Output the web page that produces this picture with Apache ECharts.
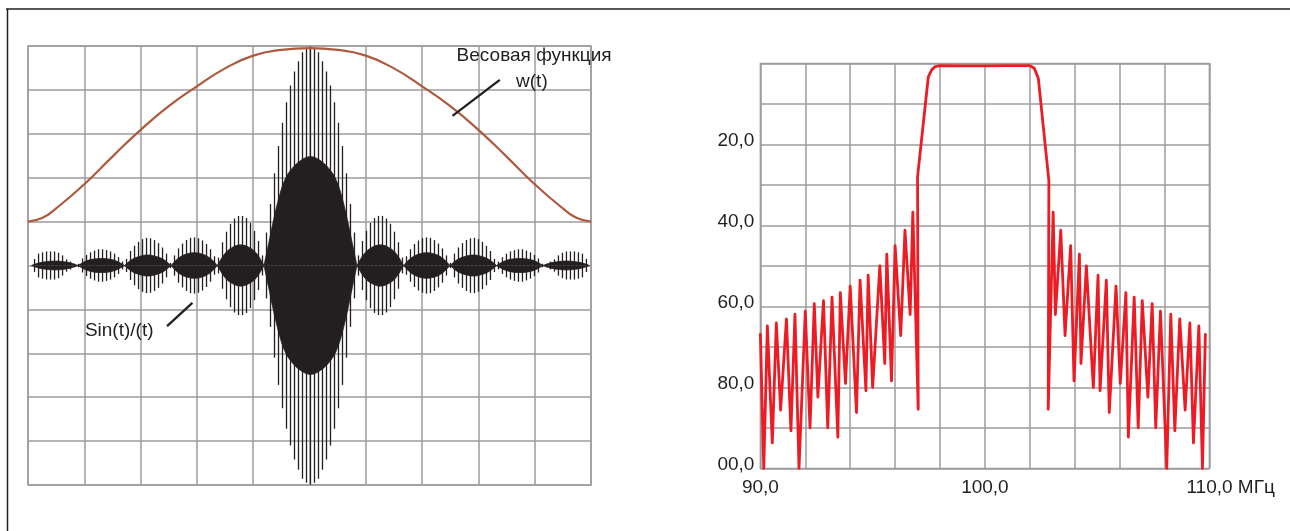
<!DOCTYPE html>
<html>
<head>
<meta charset="utf-8">
<script src="https://cdn.jsdelivr.net/npm/echarts@6/dist/echarts.min.js"></script>
<style>
  html, body { margin: 0; padding: 0; background: #ffffff; }
  #main { width: 1290px; height: 531px; }
</style>
</head>
<body>
<div id="main"></div>
<script>
// ---------------- DATA ----------------
// Left panel: weight function w(t), sampled on grid columns (0..10) -> amplitude (grid rows, baseline 0)
const weightU = [0, 0.25, 0.5, 1, 1.5, 2, 2.5, 3, 3.5, 4, 4.5, 5, 5.5, 6, 6.5, 7, 7.5, 8, 8.5, 9, 9.5, 9.75, 10];
const weightW = [1.00, 1.08, 1.30, 1.85, 2.48, 3.09, 3.63, 4.08, 4.49, 4.78, 4.91, 4.95, 4.91, 4.78, 4.49, 4.08, 3.63, 3.09, 2.48, 1.85, 1.30, 1.08, 1.00];

// Sin(t)/t carrier strokes: half-heights of the vertical strokes, from the centre outwards (mirrored to the left)
const strokeStep = 0.086; // spacing of strokes in t-units (zeros of sinc at integer t)
const strokeHeights = [
  4.99, 4.95, 4.86, 4.65, 4.42, 4.10, 3.72, 3.25, 2.72, 2.10, 1.40, 0.75,
  0.23, 0.56, 0.79, 0.97, 1.08, 1.13, 1.13, 1.07, 0.95, 0.77, 0.53, 0.18,
  0.21, 0.37, 0.49, 0.57, 0.62, 0.64, 0.63, 0.58, 0.50, 0.39, 0.23,
  0.06, 0.27, 0.41, 0.51, 0.58, 0.62, 0.63, 0.60, 0.54, 0.45, 0.33, 0.15,
  0.09, 0.19, 0.27, 0.32, 0.35, 0.37, 0.37, 0.34, 0.30, 0.24, 0.16, 0.04,
  0.04, 0.09, 0.14, 0.23, 0.29, 0.32, 0.32, 0.32, 0.30, 0.27, 0.15
];

// Filled envelope: main lobe (right half, mirrored) and side lobes (right side, mirrored)
const mainLobeFill = [[0, 2.48], [0.2, 2.40], [0.42, 2.18], [0.56, 1.93], [0.68, 1.54], [0.8, 1.01], [0.9, 0.5], [1, 0]];
const sideLobeFill = [
  [[1, 0], [1.15, 0.26], [1.3, 0.40], [1.5, 0.47], [1.7, 0.40], [1.85, 0.26], [2, 0]],
  [[2, 0], [2.15, 0.16], [2.3, 0.25], [2.5, 0.29], [2.7, 0.25], [2.85, 0.16], [3, 0]],
  [[3, 0], [3.15, 0.13], [3.3, 0.20], [3.5, 0.24], [3.7, 0.20], [3.85, 0.13], [4, 0]],
  [[4, 0], [4.15, 0.09], [4.3, 0.14], [4.5, 0.16], [4.7, 0.14], [4.85, 0.09], [5, 0]],
  [[5, 0], [5.15, 0.055], [5.3, 0.085], [5.5, 0.10], [5.7, 0.085], [5.85, 0.055], [6, 0]]
];

// Right panel: frequency response, MHz vs attenuation (dB, downwards)
const respFreq = [
  90.00, 90.15, 90.31, 90.53, 90.71, 90.90, 91.16, 91.36, 91.54, 91.72, 92.00, 92.21, 92.40, 92.56, 92.81, 93.00,
  93.19, 93.45, 93.56, 93.79, 94.00, 94.28, 94.44, 94.70, 94.80, 95.00, 95.32, 95.54, 95.63, 95.84, 96.00, 96.25,
  96.44, 96.67, 96.79, 97.03, 97.00, 97.48, 97.63, 97.78, 98.00, 99.00, 100.00, 101.00, 102.01, 102.20, 102.38, 102.85,
  102.82, 103.04, 103.14, 103.38, 103.57, 103.82, 103.97, 104.21, 104.28, 104.52, 104.83, 105.04, 105.13, 105.41, 105.54,
  105.84, 106.03, 106.28, 106.39, 106.65, 106.83, 107.01, 107.26, 107.45, 107.61, 107.82, 108.10, 108.28, 108.46, 108.68,
  108.92, 109.13, 109.29, 109.53, 109.69, 109.82
];
const respAtten = [
  66.9, 100.0, 64.8, 93.7, 64.1, 85.6, 63.1, 90.7, 61.9, 100.0, 61.2, 90.0, 59.3, 82.4, 58.6, 90.0,
  57.7, 92.3, 56.6, 79.0, 55.0, 86.2, 53.5, 80.8, 52.3, 80.0, 50.0, 74.1, 47.1, 78.4, 45.0, 67.2,
  41.2, 62.0, 36.7, 85.4, 28.0, 3.3, 1.6, 0.8, 0.57, 0.6, 0.6, 0.55, 0.57, 1.2, 3.7, 29.0,
  85.4, 36.7, 62.0, 41.2, 67.2, 45.0, 78.4, 47.1, 74.1, 50.0, 80.0, 52.3, 80.8, 53.5, 86.2,
  55.0, 79.0, 56.6, 92.3, 57.7, 90.0, 58.6, 82.4, 59.3, 90.0, 61.2, 100.0, 61.9, 90.7, 63.1,
  85.6, 64.1, 93.7, 64.8, 100.0, 66.9
];
const yTickLabels = { 20: '20,0', 40: '40,0', 60: '60,0', 80: '80,0', 100: '00,0' };
const xTickLabels = { 90: '90,0', 100: '100,0', 110: '110,0 МГц' };
const labelTexts = { weight1: 'Весовая функция', weight2: 'w(t)', sinc: 'Sin(t)/(t)' };

// ---------------- BUILD ----------------
const INK = '#231f20';
const GRIDC = '#9c9c9c';
const FONT = '"Liberation Sans", Arial, sans-serif';

const weightData = weightU.map((u, i) => [u, weightW[i]]);

const strokeData = [];
for (let k = strokeHeights.length - 1; k >= 1; k--) strokeData.push([-k * strokeStep, strokeHeights[k]]);
for (let k = 0; k < strokeHeights.length; k++) strokeData.push([k * strokeStep, strokeHeights[k]]);

const lobes = [];
const mainFull = mainLobeFill.slice(1).map(p => [-p[0], p[1]]).reverse().concat(mainLobeFill);
lobes.push(mainFull);
sideLobeFill.forEach(l => {
  lobes.push(l);
  lobes.push(l.map(p => [-p[0], p[1]]).reverse());
});

const fillSeries = [];
lobes.forEach(l => {
  [1, -1].forEach(sign => {
    fillSeries.push({
      type: 'line', xAxisIndex: 1, yAxisIndex: 0,
      data: l.map(p => [p[0], sign * p[1]]),
      smooth: 0.4, symbol: 'none', silent: true, z: 4,
      lineStyle: { color: INK, width: 0.8 },
      areaStyle: { color: INK, opacity: 1 }
    });
  });
});

const respData = respFreq.map((f, i) => [f, respAtten[i]]);

const option = {
  animation: false,
  backgroundColor: '#ffffff',
  grid: [
    { left: 28, top: 46, width: 563, height: 439, show: true, borderColor: GRIDC, borderWidth: 1.5 },
    { left: 760.4, top: 63.4, width: 449, height: 405, show: true, borderColor: GRIDC, borderWidth: 1.5 }
  ],
  xAxis: [
    { gridIndex: 0, type: 'value', min: 0, max: 10, interval: 1,
      axisLine: { show: false }, axisTick: { show: false }, axisLabel: { show: false },
      splitLine: { show: true, lineStyle: { color: GRIDC, width: 1.5 } } },
    { gridIndex: 0, type: 'value', min: -6.075, max: 6.032, show: false, splitLine: { show: false } },
    { gridIndex: 1, type: 'value', min: 90, max: 110, interval: 2,
      axisLine: { show: false }, axisTick: { show: false },
      splitLine: { show: true, lineStyle: { color: GRIDC, width: 1.5 } },
      axisLabel: {
        show: true, margin: 19.5, verticalAlign: 'middle',
        color: INK, fontSize: 19, fontFamily: FONT,
        formatter: v => {
          const t = xTickLabels[v] || '';
          return v === 110 ? '{p| }' + t : t;
        },
        rich: { p: { width: 42.5, fontSize: 19, fontFamily: FONT } }
      } }
  ],
  yAxis: [
    { gridIndex: 0, type: 'value', min: -5, max: 5, interval: 1,
      axisLine: { show: false }, axisTick: { show: false }, axisLabel: { show: false },
      splitLine: { show: true, lineStyle: { color: GRIDC, width: 1.5 } } },
    { gridIndex: 1, type: 'value', min: 0, max: 100, interval: 10, inverse: true,
      axisLine: { show: false }, axisTick: { show: false },
      splitLine: { show: true, lineStyle: { color: GRIDC, width: 1.5 } },
      axisLabel: {
        show: true, margin: 6, verticalAlign: 'middle',
        color: INK, fontSize: 19, fontFamily: FONT,
        formatter: v => yTickLabels[v] ? '{a|' + yTickLabels[v] + '}' : '',
        rich: { a: { fontSize: 19, fontFamily: FONT, color: INK, padding: [0, 0, 8, 0] } }
      } }
  ],
  series: [
    {
      type: 'custom', xAxisIndex: 1, yAxisIndex: 0, z: 3, silent: true,
      data: strokeData,
      renderItem: (params, api) => {
        const t = api.value(0), h = api.value(1);
        const a = api.coord([t, h]);
        const b = api.coord([t, -h]);
        return { type: 'line', shape: { x1: a[0], y1: a[1], x2: b[0], y2: b[1] },
                 style: { stroke: INK, lineWidth: 1.3 } };
      }
    },
    ...fillSeries,
    {
      type: 'line', xAxisIndex: 0, yAxisIndex: 0, data: weightData, smooth: 0.5,
      symbol: 'none', silent: true, z: 5,
      lineStyle: { color: '#ad5a3e', width: 2.2 }
    },
    {
      type: 'line', xAxisIndex: 2, yAxisIndex: 1, data: respData, smooth: false,
      symbol: 'none', silent: true, clip: false, z: 5,
      lineStyle: { color: '#ed1c24', width: 2.8, join: 'round', cap: 'round' }
    }
  ]
};

const chart = echarts.init(document.getElementById('main'), null, { renderer: 'canvas' });
chart.setOption(option);

const px = (u, v) => chart.convertToPixel({ xAxisIndex: 0, yAxisIndex: 0 }, [u, v]);
const leader = (p, q) => {
  const a = px(p[0], p[1]), b = px(q[0], q[1]);
  return { type: 'line', silent: true, z: 10,
           shape: { x1: a[0], y1: a[1], x2: b[0], y2: b[1] },
           style: { stroke: INK, lineWidth: 2.3 } };
};
const label = (text, u, v) => {
  const a = px(u, v);
  return { type: 'text', silent: true, z: 10, x: a[0], y: a[1],
           style: { text: text, fill: INK, font: '19px ' + FONT, textAlign: 'center', textVerticalAlign: 'middle' } };
};

chart.setOption({
  graphic: [
    { type: 'line', silent: true, shape: { x1: 6, y1: 9, x2: 1290, y2: 9 }, style: { stroke: INK, lineWidth: 1.5 } },
    { type: 'line', silent: true, shape: { x1: 7.5, y1: 9, x2: 7.5, y2: 531 }, style: { stroke: INK, lineWidth: 1.5 } },
    leader([8.38, 4.23], [7.54, 3.41]),
    leader([2.92, -0.85], [2.47, -1.38]),
    label(labelTexts.weight1, 8.99, 4.77),
    label(labelTexts.weight2, 8.95, 4.19),
    label(labelTexts.sinc, 1.62, -1.48)
  ]
});
</script>
</body>
</html>
